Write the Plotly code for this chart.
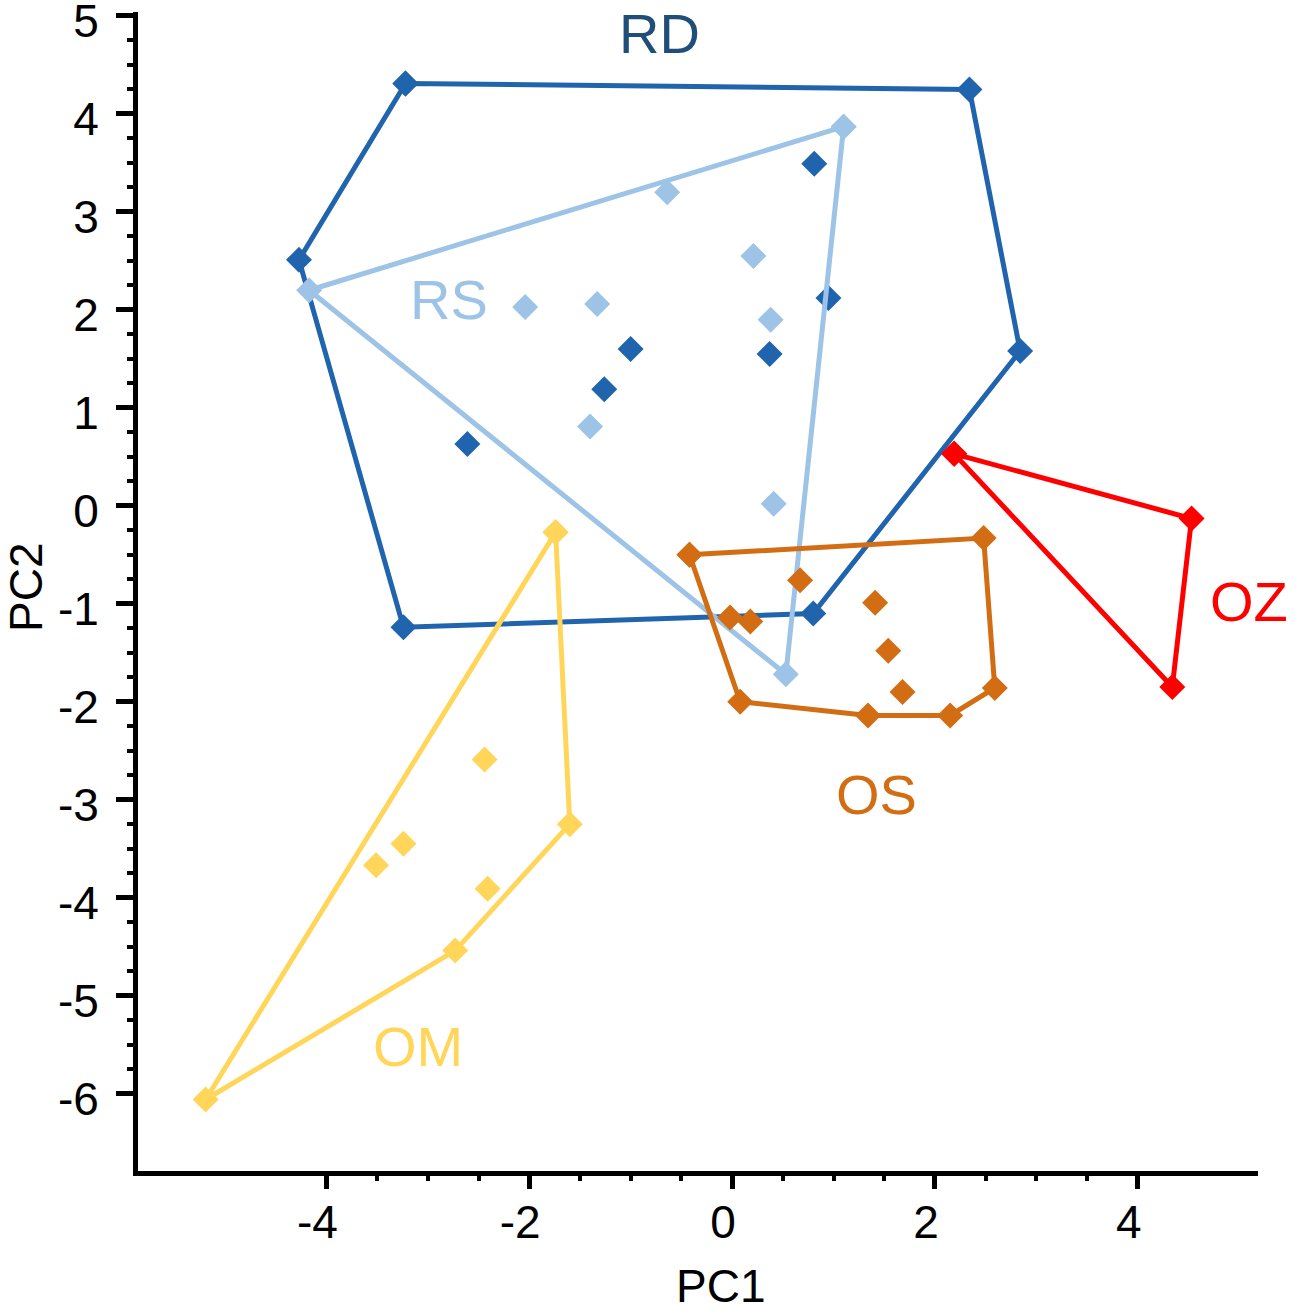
import numpy as np
import plotly.graph_objects as go

# PCA groups: hull vertices (in drawing order) and interior points
rd_hull_x = [-3.22, 2.34, 2.84, 0.80, -3.24, -4.27]
rd_hull_y = [4.31, 4.25, 1.58, -1.10, -1.24, 2.51]
rd_in_x = [0.81, 0.95, 0.37, -1.00, -1.26, -2.61]
rd_in_y = [3.49, 2.12, 1.55, 1.60, 1.19, 0.63]

rs_hull_x = [1.10, -4.17, 0.53]
rs_hull_y = [3.87, 2.20, -1.72]
rs_in_x = [-0.64, 0.21, -2.04, -1.33, 0.38, -1.40, 0.41]
rs_in_y = [3.20, 2.55, 2.03, 2.06, 1.90, 0.81, 0.02]

om_hull_x = [-1.74, -1.60, -2.73, -5.19]
om_hull_y = [-0.27, -3.25, -4.54, -6.06]
om_in_x = [-2.44, -3.24, -3.51, -2.41]
om_in_y = [-2.59, -3.45, -3.67, -3.91]

os_hull_x = [-0.42, 2.48, 2.59, 2.15, 1.34, 0.08]
os_hull_y = [-0.50, -0.33, -1.86, -2.14, -2.14, -2.00]
os_in_x = [0.67, 1.41, 0.18, -0.02, 1.54, 1.68]
os_in_y = [-0.76, -0.99, -1.18, -1.14, -1.48, -1.90]

oz_hull_x = [2.19, 4.53, 4.34]
oz_hull_y = [0.53, -0.13, -1.85]
oz_in_x = []
oz_in_y = []

group_names = ["RD", "RS", "OM", "OS", "OZ"]
group_colors = ["#2164ae", "#9dc3e6", "#ffd65a", "#d26d14", "#ff0000"]
label_colors = ["#1f4e79", "#9dc3e6", "#ffd65a", "#d26d14", "#ff0000"]
label_x = [-0.72, -2.79, -3.10, 1.42, 5.10]
label_y = [4.86, 2.11, -5.52, -2.95, -0.98]

x_ticks = [-4, -2, 0, 2, 4]
y_ticks = list(range(-6, 6))

groups = [
    (rd_hull_x, rd_hull_y, rd_in_x, rd_in_y),
    (rs_hull_x, rs_hull_y, rs_in_x, rs_in_y),
    (om_hull_x, om_hull_y, om_in_x, om_in_y),
    (os_hull_x, os_hull_y, os_in_x, os_in_y),
    (oz_hull_x, oz_hull_y, oz_in_x, oz_in_y),
]

fig = go.Figure()
for name, color, (hx, hy, ix, iy) in zip(group_names, group_colors, groups):
    fig.add_trace(go.Scatter(x=hx + hx[:1], y=hy + hy[:1], mode="lines+markers", name=name,
                             line=dict(color=color, width=5),
                             marker=dict(symbol="diamond", size=20, color=color)))
    fig.add_trace(go.Scatter(x=ix, y=iy, mode="markers", name=name, showlegend=False,
                             marker=dict(symbol="diamond", size=20, color=color)))

for i, (name, color, lx, ly) in enumerate(zip(group_names, label_colors, label_x, label_y)):
    if i == 0:
        # top label sits partly in the margin above the plot area
        fig.add_annotation(x=lx, y=1, yref="paper", yanchor="top", yshift=12, text=name,
                           showarrow=False, font=dict(size=56, color=color))
    else:
        fig.add_annotation(x=lx, y=ly, text=name, showarrow=False,
                           font=dict(size=56, color=color))

# axis titles
fig.add_annotation(x=0.5205, y=-0.0992, xref="paper", yref="paper", xanchor="center", yanchor="middle",
                   text="PC1", showarrow=False, font=dict(size=46, color="black"))
fig.add_annotation(x=-0.1, y=0.503, xref="paper", yref="paper", xanchor="center", yanchor="middle",
                   text="PC2", showarrow=False, textangle=-90, font=dict(size=46, color="black"))

x_minor = [v for v in np.arange(-4, 4.01, 0.5) if v % 2 != 0]
y_minor = [v for v in np.arange(-6, 5.01, 0.25) if v % 1 != 0]

fig.update_xaxes(range=[-5.857, 5.185], tickvals=x_ticks, ticktext=[str(v) for v in x_ticks],
                 showgrid=False, zeroline=False, automargin=False,
                 showline=True, linecolor="black", linewidth=5,
                 ticks="outside", ticklen=13, tickwidth=5, tickcolor="black",
                 ticklabelstandoff=-6, ticklabelshift=-9,
                 tickfont=dict(size=46, color="black"),
                 minor=dict(tickvals=x_minor, ticks="outside", ticklen=5, tickwidth=4, tickcolor="black"))
fig.update_yaxes(range=[-6.79, 5.04], tickvals=y_ticks, ticktext=[str(v) for v in y_ticks],
                 showgrid=False, zeroline=False, automargin=False, ticklabeloverflow="allow",
                 showline=True, linecolor="black", linewidth=5,
                 ticks="outside", ticklen=17, tickwidth=5, tickcolor="black",
                 ticklabelstandoff=8, ticklabelshift=5,
                 tickfont=dict(size=46, color="black"),
                 minor=dict(tickvals=y_minor, ticks="outside", ticklen=6, tickwidth=4, tickcolor="black"))

fig.update_layout(width=1299, height=1316, showlegend=False,
                  plot_bgcolor="white", paper_bgcolor="white",
                  font=dict(family="Liberation Sans, Arial"),
                  margin=dict(l=138, r=41, t=12, b=145))
# drop the browser's default 8px body margin so the figure fills the window
fig.write_html("out.html", config={"displayModeBar": False},
               post_script="document.body.style.margin = '0';")
